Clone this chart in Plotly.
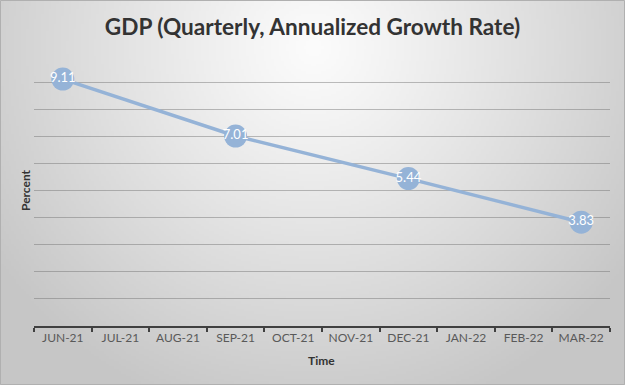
import base64, struct, zlib
import numpy as np
import plotly.graph_objects as go

categories = ["JUN-21", "JUL-21", "AUG-21", "SEP-21", "OCT-21", "NOV-21",
              "DEC-21", "JAN-22", "FEB-22", "MAR-22"]
point_categories = ["JUN-21", "SEP-21", "DEC-21", "MAR-22"]
gdp_values = [9.11, 7.01, 5.44, 3.83]
title_text = "GDP (Quarterly, Annualized Growth Rate)"

W, H = 625, 385
L, R, T, B = 34, 15, 55, 59

# radial gradient background as PNG data uri
gw, gh = 250, 154
yy, xx = np.mgrid[0:gh, 0:gw]
cx, cy = gw * 0.5, gh * 0.12
d = np.sqrt(((xx - cx) / (gw * 0.62)) ** 2 + ((yy - cy) / (gh * 1.0)) ** 2)
d = np.clip(d, 0, 1)
val = (252 - (252 - 198) * d ** 1.1).astype(np.uint8)
rgb = np.stack([val, val, val], axis=-1)
raw = b"".join(b"\x00" + rgb[i].tobytes() for i in range(gh))

def chunk(tag, data):
    c = struct.pack(">I", len(data)) + tag + data
    return c + struct.pack(">I", zlib.crc32(tag + data) & 0xffffffff)

png = b"\x89PNG\r\n\x1a\n" + chunk(b"IHDR", struct.pack(">IIBBBBB", gw, gh, 8, 2, 0, 0, 0)) \
      + chunk(b"IDAT", zlib.compress(raw, 9)) + chunk(b"IEND", b"")
uri = "data:image/png;base64," + base64.b64encode(png).decode()

pw, ph = W - L - R, H - T - B

fig = go.Figure()
fig.add_trace(go.Scatter(
    x=point_categories, y=gdp_values, mode="lines+markers+text",
    line=dict(color="#95b3d7", width=3.5),
    marker=dict(size=23, color="#95b3d7", line=dict(color="#95b3d7", width=0)),
    text=[f"{v:.2f}" for v in gdp_values], textposition="middle center",
    textfont=dict(color="white", size=13, family="Lato"),
    cliponaxis=False, hoverinfo="skip", showlegend=False,
))

fig.update_layout(
    width=W, height=H,
    margin=dict(l=L, r=R, t=T, b=B, autoexpand=False),
    paper_bgcolor="white", plot_bgcolor="rgba(0,0,0,0)",
    title=dict(text=title_text, x=0.5, xref="container", y=1 - 27 / H, yanchor="middle",
               font=dict(family="Lato", size=22.6, color="#333333", weight="bold")),
    images=[dict(source=uri, xref="paper", yref="paper", x=-L / pw, y=1 + T / ph,
                 sizex=W / pw, sizey=H / ph, xanchor="left", yanchor="top",
                 sizing="stretch", layer="below")],
    xaxis=dict(
        type="category", categoryorder="array", categoryarray=categories,
        range=[-0.5, len(categories) - 0.5], automargin=False,
        showgrid=False, showline=True, linecolor="#404040", linewidth=2,
        ticks="outside", ticklen=4, tickwidth=2, tickcolor="#404040",
        tickson="boundaries",
        tickfont=dict(family="Lato", size=12, color="#595959"),
        zeroline=False,
    ),
    yaxis=dict(
        range=[0, 10], dtick=1, showticklabels=False, automargin=False,
        showgrid=True, gridcolor="rgba(110,110,110,0.45)", gridwidth=1,
        zeroline=False, showline=False, ticks="",
    ),
    annotations=[
        dict(text="<b>Time</b>", xref="paper", yref="paper", x=(321 - L) / pw, y=-(360 - T - ph) / ph,
             xanchor="center", yanchor="middle", showarrow=False,
             font=dict(family="Lato", size=12, color="#333333")),
        dict(text="<b>Percent</b>", xref="paper", yref="paper", x=-(L - 25) / pw, y=1 - (190 - T) / ph,
             xanchor="center", yanchor="middle", showarrow=False, textangle=-90,
             font=dict(family="Lato", size=12, color="#333333")),
    ],
    shapes=[dict(type="rect", xref="paper", yref="paper", x0=-L / pw + 0.5 / pw, x1=1 + (R - 0.5) / pw,
                 y0=-B / ph + 0.5 / ph, y1=1 + (T - 0.5) / ph,
                 line=dict(color="#b0b0b0", width=1), layer="below")],
)

fig.write_html("out.html", config={"displayModeBar": False},
               post_script="document.body.style.margin='0';")
